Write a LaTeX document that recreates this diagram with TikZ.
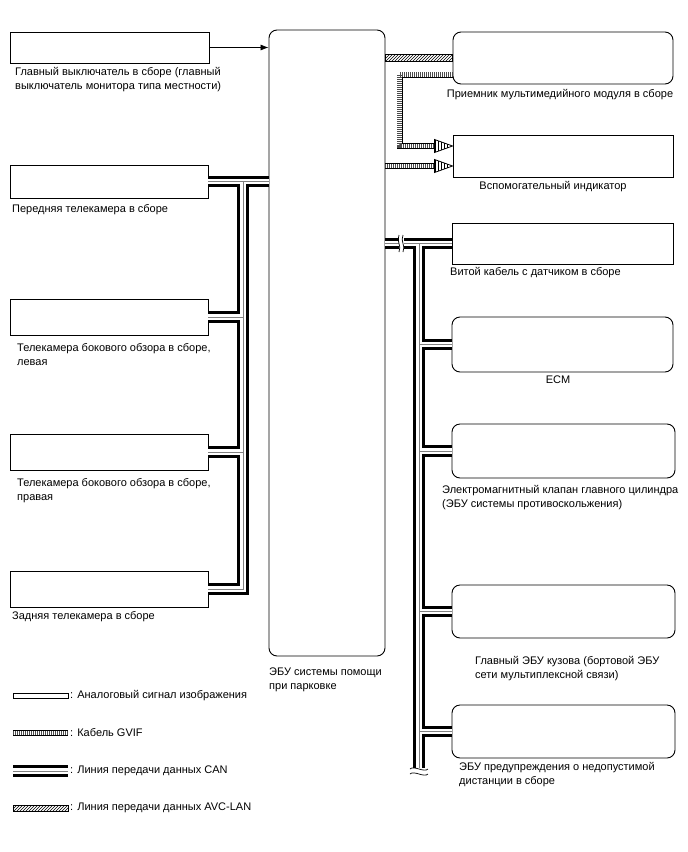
\documentclass[tikz,border=0pt]{standalone}
\usepackage{fontspec}
\setmainfont{Liberation Sans}
\usetikzlibrary{arrows.meta,patterns}

\newcommand{\lblfont}{\fontsize{11}{14}\selectfont}

\tikzset{
  unit/.style={draw, line width=0.9pt, fill=white, inner sep=0},
  runit/.style={unit, rounded corners=8pt},
  lbl/.style={anchor=north west, inner sep=0, align=left, font=\lblfont},
  clbl/.style={lbl, anchor=north, align=center},
  canout/.style={line width=11.5pt, black},
  canin/.style={line width=5.5pt, white},
  cancore/.style={line width=0.6pt, gray},
  gvifout/.style={line width=6pt, black},
  gvifin/.style={line width=4.4pt, white},
  gviftick/.style={line width=4.4pt, gray!60!black, dash pattern=on 0.7pt off 1.3pt},
  avc/.style={draw, line width=0.8pt, pattern=north east lines},
  gvifhead/.pic={
    \draw[line width=0.8pt, fill=white] (-18,-6.5) -- (0,0) -- (-18,6.5) -- cycle;
    \foreach \d in {5,8,11,14,17}
      \draw[line width=0.6pt] (-\d,-\d*0.36) -- (-\d,\d*0.36);
  }
}

\begin{document}
\begin{tikzpicture}[x=1pt, y=-1pt]
  \useasboundingbox (0,0) rectangle (688,852);

  % units
  \node[unit, minimum width=199pt, minimum height=31pt] (msw) at (109.5,47.5) {};
  \node[unit, minimum width=198pt, minimum height=33pt] (fcam) at (109,181.5) {};
  \node[unit, minimum width=198pt, minimum height=36pt] (lcam) at (109,317) {};
  \node[unit, minimum width=198pt, minimum height=36pt] (rcam) at (109,452) {};
  \node[unit, minimum width=198pt, minimum height=36pt] (bcam) at (109,589) {};
  \node[runit, minimum width=116pt, minimum height=626pt] (ecu) at (327,343) {};
  \node[runit, minimum width=220pt, minimum height=52pt] (mmr) at (563,58) {};
  \node[unit, minimum width=220pt, minimum height=42pt] (aux) at (563,156) {};
  \node[unit, minimum width=221pt, minimum height=41pt] (spiral) at (562.5,243.5) {};
  \node[runit, minimum width=221pt, minimum height=55pt] (ecm) at (562.5,344.5) {};
  \node[runit, minimum width=223pt, minimum height=54pt] (brake) at (563.5,451) {};
  \node[runit, minimum width=223pt, minimum height=53pt] (body) at (563.5,611.5) {};
  \node[runit, minimum width=223pt, minimum height=53pt] (warn) at (563.5,731.5) {};

  % labels
  \node[lbl] (mswtxt) at (15,67.5) {Главный выключатель в сборе (главный\\выключатель монитора типа местности)};
  \node[lbl] (fcamtxt) at (12,204.5) {Передняя телекамера в сборе};
  \node[lbl] (lcamtxt) at (17,343.5) {Телекамера бокового обзора в сборе,\\левая};
  \node[lbl] (rcamtxt) at (17,478.5) {Телекамера бокового обзора в сборе,\\правая};
  \node[lbl] (bcamtxt) at (12,611.5) {Задняя телекамера в сборе};
  \node[lbl] (ecutxt) at (269,667.5) {ЭБУ системы помощи\\при парковке};
  \node[clbl] (mmrtxt) at (560,89.5) {Приемник мультимедийного модуля в сборе};
  \node[clbl] (auxtxt) at (553,181.5) {Вспомогательный индикатор};
  \node[lbl] (spiraltxt) at (450,267.5) {Витой кабель с датчиком в сборе};
  \node[clbl] (ecmtxt) at (558,375.5) {ECM};
  \node[lbl] (braketxt) at (442,485.5) {Электромагнитный клапан главного цилиндра\\(ЭБУ системы противоскольжения)};
  \node[lbl] (bodytxt) at (475,656.5) {Главный ЭБУ кузова (бортовой ЭБУ\\сети мультиплексной связи)};
  \node[lbl] (warntxt) at (459,762.5) {ЭБУ предупреждения о недопустимой\\дистанции в сборе};

  % switch signal
  \draw[line width=0.7pt, -{Latex[length=8pt,width=6pt]}] (msw.east) -- (ecu.west |- msw.east);

  % CAN buses
  \coordinate (lbus) at (243,181.5);
  \coordinate (rbus) at (419,243.5);
  \coordinate (rend) at (419,770);
  \foreach \s in {canout,canin,cancore} {
    \draw[\s] (fcam.east) -- (ecu.west |- fcam.east);
    \draw[\s, line join=miter] (lbus) -- (lbus |- bcam.east) -- (bcam.east);
    \draw[\s] (lcam.east) -- (lcam.east -| lbus);
    \draw[\s] (rcam.east) -- (rcam.east -| lbus);
    \draw[\s] (ecu.east |- spiral.west) -- (spiral.west);
    \draw[\s] (rbus) -- (rend);
    \draw[\s] (rbus |- ecm.west) -- (ecm.west);
    \draw[\s] (rbus |- brake.west) -- (brake.west);
    \draw[\s] (rbus |- body.west) -- (body.west);
    \draw[\s] (rbus |- warn.west) -- (warn.west);
  }
  % breaks
  \fill[white] (398.5,234) rectangle (403.5,253);
  \draw[line width=0.7pt] (399,235) .. controls (396,241) and (402,246) .. (399,252);
  \draw[line width=0.7pt] (403,235) .. controls (400,241) and (406,246) .. (403,252);
  \fill[white] (409,768) rectangle (429,776);
  \draw[line width=0.7pt] (410,769) .. controls (414,765) and (424,773) .. (428,769);
  \draw[line width=0.7pt] (410,774) .. controls (414,770) and (424,778) .. (428,774);

  % AVC-LAN
  \draw[avc] (ecu.east |- 0,54.5) rectangle (mmr.west |- 0,61.5);

  % GVIF
  \coordinate (gtop) at (mmr.west |- 0,74.5);
  \coordinate (gbend) at (399.5,74.5);
  \coordinate (gend1) at (435,146);
  \coordinate (gend2) at (435,166);
  \foreach \s in {gvifout,gvifin,gviftick} {
    \draw[\s] (gtop) -- (gbend) -- (gbend |- gend1) -- (gend1);
    \draw[\s] (ecu.east |- gend2) -- (gend2);
  }
  \pic at (aux.west |- gend1) {gvifhead};
  \pic at (aux.west |- gend2) {gvifhead};

  % legend
  \draw[line width=0.8pt, fill=white] (13,693) rectangle (68,698);
  \node[lbl, anchor=west] (l1) at (70,695.5) {: Аналоговый сигнал изображения};
  \foreach \s in {gvifout,gvifin,gviftick}
    \draw[\s] (13,733) -- (68,733);
  \node[lbl, anchor=west] (l2) at (70,733) {: Кабель GVIF};
  \foreach \s in {canout,canin,cancore}
    \draw[\s] (13,771) -- (68,771);
  \node[lbl, anchor=west] (l3) at (70,771) {: Линия передачи данных CAN};
  \draw[avc] (13,805) rectangle (68,811);
  \node[lbl, anchor=west] (l4) at (70,808) {: Линия передачи данных AVC-LAN};
\end{tikzpicture}
\end{document}
